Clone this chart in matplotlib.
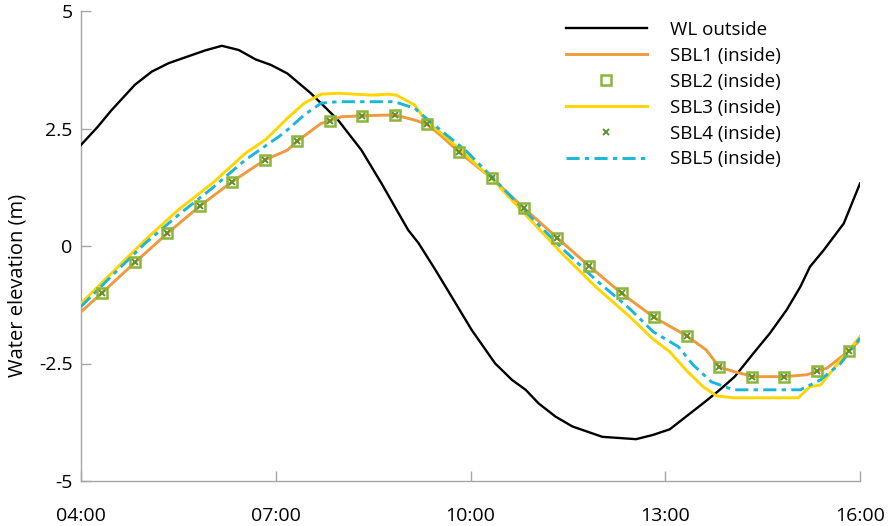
import matplotlib
matplotlib.use("Agg")
import matplotlib.pyplot as plt

# Outside water level (time in decimal hours, elevation in m)
wl_hours = [4.00, 4.26, 4.47, 4.83, 5.09, 5.35, 5.66, 5.91, 6.17, 6.43, 6.69, 6.93,
            7.18, 7.54, 7.96, 8.32, 8.63, 8.89, 9.04, 9.20, 9.46, 9.71, 10.02, 10.38,
            10.64, 10.85, 11.05, 11.31, 11.57, 12.03, 12.55, 12.81, 13.07, 13.32, 13.58,
            13.84, 14.07, 14.36, 14.61, 14.87, 15.08, 15.23, 15.44, 15.75, 16.00]
wl_values = [2.15, 2.54, 2.89, 3.43, 3.71, 3.89, 4.04, 4.16, 4.26, 4.17, 3.97, 3.85,
             3.67, 3.25, 2.68, 2.04, 1.33, 0.70, 0.34, 0.06, -0.51, -1.08, -1.79, -2.50,
             -2.85, -3.06, -3.35, -3.63, -3.84, -4.06, -4.11, -4.02, -3.90, -3.63, -3.35,
             -3.06, -2.78, -2.28, -1.86, -1.36, -0.87, -0.44, -0.09, 0.48, 1.33]

# SBL1 (inside)
sbl1_hours = [4.00, 4.33, 4.83, 5.33, 5.83, 6.33, 6.83, 7.18, 7.33, 7.70, 7.83, 8.01,
              8.33, 8.83, 9.14, 9.33, 9.56, 9.83, 10.33, 10.83, 11.33, 11.83, 12.33,
              12.83, 13.33, 13.63, 13.83, 14.05, 14.25, 14.33, 14.83, 15.18, 15.33,
              15.49, 15.83, 16.00]
sbl1_values = [-1.40, -0.99, -0.35, 0.27, 0.85, 1.37, 1.83, 2.04, 2.23, 2.61, 2.66, 2.75,
               2.77, 2.79, 2.68, 2.59, 2.33, 1.99, 1.44, 0.80, 0.18, -0.43, -1.01,
               -1.52, -1.91, -2.21, -2.57, -2.67, -2.74, -2.78, -2.78, -2.74, -2.67,
               -2.60, -2.23, -2.00]

# SBL2 and SBL4 (inside), sampled every 30 minutes
mark_hours = [4.33, 4.83, 5.33, 5.83, 6.33, 6.83, 7.33, 7.83, 8.33, 8.83, 9.33, 9.83,
              10.33, 10.83, 11.33, 11.83, 12.33, 12.83, 13.33, 13.83, 14.33, 14.83,
              15.33, 15.83]
sbl2_values = [-0.99, -0.35, 0.27, 0.85, 1.37, 1.83, 2.23, 2.66, 2.77, 2.79, 2.59, 1.99,
               1.44, 0.80, 0.18, -0.43, -1.01, -1.52, -1.91, -2.57, -2.78, -2.78,
               -2.67, -2.23]
sbl4_values = [-0.99, -0.35, 0.27, 0.85, 1.37, 1.83, 2.23, 2.66, 2.77, 2.79, 2.59, 1.99,
               1.44, 0.80, 0.18, -0.43, -1.01, -1.52, -1.91, -2.57, -2.78, -2.78,
               -2.67, -2.23]

# SBL3 (inside)
sbl3_hours = [4.00, 4.47, 4.99, 5.50, 6.02, 6.53, 6.84, 7.05, 7.18, 7.44, 7.70, 7.96,
              8.47, 8.73, 8.86, 9.14, 9.30, 9.61, 9.87, 10.38, 10.49, 10.90, 11.41,
              11.93, 12.45, 12.81, 13.07, 13.32, 13.58, 13.79, 14.05, 14.51, 15.05,
              15.23, 15.39, 15.70, 16.00]
sbl3_values = [-1.22, -0.58, 0.13, 0.77, 1.33, 1.97, 2.26, 2.54, 2.72, 3.04, 3.23, 3.25,
               3.21, 3.23, 3.21, 3.00, 2.68, 2.33, 2.01, 1.37, 1.19, 0.59, -0.16,
               -0.87, -1.50, -1.98, -2.25, -2.64, -2.99, -3.19, -3.23, -3.23, -3.23,
               -2.99, -2.96, -2.43, -1.93]

# SBL5 (inside)
sbl5_hours = [4.00, 4.47, 4.99, 5.50, 6.02, 6.53, 7.05, 7.18, 7.44, 7.70, 7.96, 8.47,
              8.83, 9.14, 9.35, 9.66, 9.92, 10.38, 10.90, 11.41, 11.93, 12.45, 12.81,
              13.20, 13.43, 13.71, 14.05, 15.08, 15.39, 15.70, 16.00]
sbl5_values = [-1.29, -0.64, 0.06, 0.66, 1.23, 1.83, 2.33, 2.47, 2.79, 3.04, 3.07, 3.07,
               3.07, 2.93, 2.68, 2.33, 2.04, 1.40, 0.66, -0.05, -0.72, -1.33, -1.82,
               -2.14, -2.53, -2.89, -3.06, -3.06, -2.85, -2.50, -1.96]

x_ticks = [4, 7, 10, 13, 16]
x_tick_labels = ["04:00", "07:00", "10:00", "13:00", "16:00"]
y_ticks = [-5, -2.5, 0, 2.5, 5]
y_tick_labels = ["-5", "-2.5", "0", "2.5", "5"]

series_labels = ["WL outside", "SBL1 (inside)", "SBL2 (inside)", "SBL3 (inside)",
                 "SBL4 (inside)", "SBL5 (inside)"]

plt.rcParams["font.family"] = ["Open Sans", "DejaVu Sans"]

fig = plt.figure(figsize=(8.88, 5.26), dpi=100)
ax = fig.add_axes([81 / 888, 1 - 481 / 526, (860 - 81) / 888, (481 - 11) / 526])

ax.plot(wl_hours, wl_values, color="black", lw=1.7, label=series_labels[0], zorder=3)
ax.plot(sbl1_hours, sbl1_values, color="#f09a3e", lw=2.1, label=series_labels[1], zorder=3)
ax.plot(mark_hours, sbl2_values, ls="none", marker="s", ms=7.5, mfc="none",
        mec="#8cb43a", mew=1.8, label=series_labels[2], zorder=5)
ax.plot(sbl3_hours, sbl3_values, color="#ffd500", lw=2.1, label=series_labels[3], zorder=3)
ax.plot(mark_hours, sbl4_values, ls="none", marker="x", ms=5, mec="#5f9030",
        mew=1.4, label=series_labels[4], zorder=6)
ax.plot(sbl5_hours, sbl5_values, color="#1ab6d8", lw=2.1,
        ls=(0, (4.5, 1.8, 1.5, 1.8)), label=series_labels[5], zorder=4)

ax.set_xlim(4, 16)
ax.set_ylim(-5, 5)
ax.set_xticks(x_ticks)
ax.set_xticklabels(x_tick_labels, fontsize=14)
ax.set_yticks(y_ticks)
ax.set_yticklabels(y_tick_labels, fontsize=14)

for side in ("top", "right"):
    ax.spines[side].set_visible(False)
for side in ("left", "bottom"):
    ax.spines[side].set_color("#a6a6a6")
    ax.spines[side].set_linewidth(1.0)
ax.tick_params(axis="both", direction="in", length=7, width=1.0, color="#a6a6a6")
ax.tick_params(axis="y", pad=6)
ax.tick_params(axis="x", pad=19)

ax.set_ylabel("Water elevation (m)", fontsize=14.5)
ax.yaxis.set_label_coords(-0.069, 0.417)

leg = ax.legend(loc="upper left", bbox_to_anchor=(566 / 888, 1 - 21 / 526),
                bbox_transform=fig.transFigure, frameon=False, fontsize=13.5,
                handlelength=4.3, handletextpad=1.25, labelspacing=0.42,
                borderpad=0, borderaxespad=0)

fig.savefig("out.png", dpi=100)
